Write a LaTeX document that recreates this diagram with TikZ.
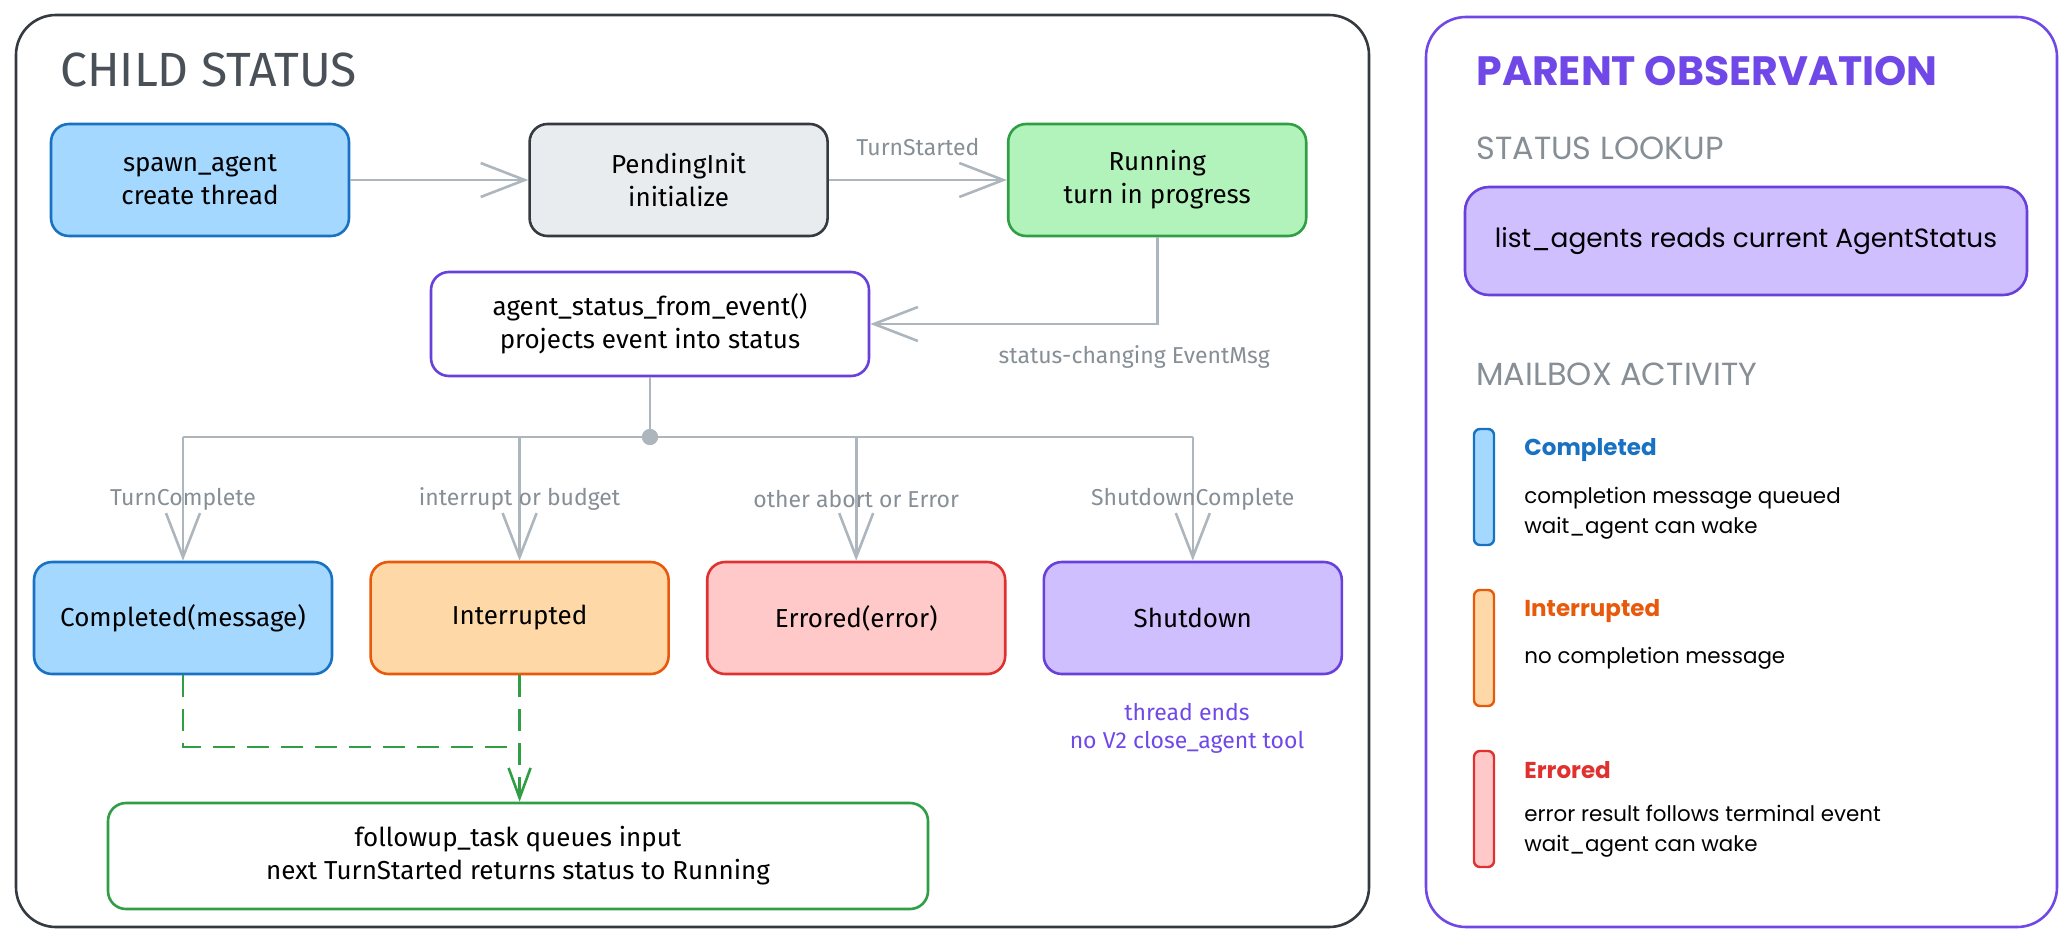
\documentclass[tikz,border=0pt]{standalone}
\usepackage{fontspec}
\setmainfont{Fira Sans}
\newfontfamily\obsfont{Poppins}
\usepackage{xcolor}
\usepackage{tikz}
\usetikzlibrary{arrows.meta,positioning}

\definecolor{lineGray}{HTML}{ADB5BD}
\definecolor{labelGray}{HTML}{868E96}
\definecolor{frameDark}{HTML}{343A40}
\definecolor{titleGray}{HTML}{495057}
\definecolor{blueFill}{HTML}{A5D8FF}
\definecolor{blueLine}{HTML}{1971C2}
\definecolor{grayFill}{HTML}{E9ECEF}
\definecolor{greenFill}{HTML}{B2F2BB}
\definecolor{greenLine}{HTML}{2F9E44}
\definecolor{violetFill}{HTML}{D0BFFF}
\definecolor{violetLine}{HTML}{6741D9}
\definecolor{violetText}{HTML}{7048E8}
\definecolor{orangeFill}{HTML}{FFD8A8}
\definecolor{orangeLine}{HTML}{E8590C}
\definecolor{redFill}{HTML}{FFC9C9}
\definecolor{redLine}{HTML}{E03131}

\begin{document}
\begin{tikzpicture}[
    x=0.5pt, y=-0.5pt,
    state/.style={draw, rounded corners=9pt, line width=1.3pt, align=center, minimum width=149pt, minimum height=56pt, font=\fontsize{13}{16.5}\selectfont},
    flow/.style={draw=lineGray, line width=1.3pt, -{Straight Barb[length=22pt,width=17pt]}},
    link/.style={draw=lineGray, line width=1.3pt},
    edgelbl/.style={text=labelGray, font=\fontsize{11.5}{14}\selectfont},
    dashflow/.style={draw=greenLine, line width=1.3pt, dash pattern=on 11pt off 6pt},
    heading/.style={anchor=west, inner sep=0pt},
    legendbar/.style={draw, rounded corners=3pt, line width=1.2pt, minimum width=10pt, minimum height=58pt, inner sep=0pt},
    legendtitle/.style={anchor=west, inner sep=0pt, font=\obsfont\bfseries\fontsize{11.5}{14}\selectfont},
    legendtext/.style={anchor=west, inner sep=0pt, align=left, font=\obsfont\fontsize{10.7}{15}\selectfont}
  ]
    \useasboundingbox (0,0) rectangle (2072,942);
    % frames
    \draw[frameDark, line width=1.3pt, rounded corners=20pt] (16,15) rectangle (1369,927);
    \draw[violetText, line width=1.3pt, rounded corners=20pt] (1426,17) rectangle (2057,927);

    % child status
    \node[heading, text=titleGray, font=\fontsize{24}{28}\selectfont] (childtitle) at (60,70) {CHILD STATUS};
    \node[state, fill=blueFill, draw=blueLine] (spawn) at (200,180) {spawn\_agent\\create thread};
    \node[state, fill=grayFill, draw=frameDark, right=89pt of spawn] (pending) {PendingInit\\initialize};
    \node[state, fill=greenFill, draw=greenLine, right=89pt of pending] (running) {Running\\turn in progress};
    \node[state, fill=white, draw=violetLine, minimum width=219pt, minimum height=52pt] (project) at (650,324) {agent\_status\_from\_event()\\projects event into status};

    \node[state, fill=blueFill, draw=blueLine] (completed) at (183,618) {Completed(message)};
    \node[state, fill=orangeFill, draw=orangeLine, right=18pt of completed] (interrupted) {Interrupted};
    \node[state, fill=redFill, draw=redLine, right=18pt of interrupted] (errored) {Errored(error)};
    \node[state, fill=violetFill, draw=violetLine, right=18pt of errored] (shutdown) {Shutdown};
    \node[text=violetText, align=center, font=\fontsize{11.5}{14}\selectfont] (shutnote) at (1187,728) {thread ends\\no V2 close\_agent tool};
    \node[state, fill=white, draw=greenLine, minimum width=410pt, minimum height=53pt] (followup) at (518,856) {followup\_task queues input\\next TurnStarted returns status to Running};

    \draw[flow] (spawn) -- (pending);
    \draw[flow] (pending) -- (running) node[midway, above=8pt, edgelbl] {TurnStarted};
    \draw[flow] (running.south) |- (project.east) node[pos=0.54, below=7pt, edgelbl] {status-changing EventMsg};

    \node[circle, fill=lineGray, inner sep=0pt, minimum size=8pt] (split) at (650,437) {};
    \draw[link] (project.south) -- (split);
    \draw[link] (completed.north |- split) -- (shutdown.north |- split);
    \draw[flow] (completed.north |- split) -- (completed.north) node[midway, edgelbl] {TurnComplete};
    \draw[flow] (interrupted.north |- split) -- (interrupted.north) node[midway, edgelbl] {interrupt or budget};
    \draw[flow] (errored.north |- split) -- (errored.north) node[midway, edgelbl] {other abort or Error};
    \draw[flow] (shutdown.north |- split) -- (shutdown.north) node[midway, edgelbl] {ShutdownComplete};
    \node[circle, fill=lineGray, inner sep=0pt, minimum size=8pt] at (split) {};

    \coordinate (merge) at (interrupted.south |- 0,747);
    \draw[dashflow] (completed.south) |- (merge);
    \draw[dashflow, -{Straight Barb[length=15pt,width=11pt]}] (interrupted.south) -- (interrupted.south |- followup.north);

    % parent observation
    \node[heading, text=violetText, font=\obsfont\bfseries\fontsize{20.5}{24}\selectfont] (parenttitle) at (1476,71) {PARENT OBSERVATION};
    \node[heading, text=labelGray, font=\obsfont\fontsize{16}{19}\selectfont] (lookuptitle) at (1476,148) {STATUS LOOKUP};
    \node[draw=violetLine, fill=violetFill, rounded corners=12pt, line width=1.3pt, minimum width=281pt, minimum height=54pt, font=\obsfont\fontsize{13.2}{16}\selectfont] (lookup) at (1746,241) {list\_agents reads current AgentStatus};
    \node[heading, text=labelGray, font=\obsfont\fontsize{16}{19}\selectfont] (mailtitle) at (1476,374) {MAILBOX ACTIVITY};

    \node[legendbar, fill=blueFill, draw=blueLine] (barcompleted) at (1484,487) {};
    \node[legendtitle, text=blueLine] (lblcompleted) at (1524,450) {Completed};
    \node[legendtext] (txtcompleted) at (1524,513) {completion message queued\\wait\_agent can wake};

    \node[legendbar, fill=orangeFill, draw=orangeLine] (barinterrupted) at (1484,648) {};
    \node[legendtitle, text=orangeLine] (lblinterrupted) at (1524,611) {Interrupted};
    \node[legendtext] (txtinterrupted) at (1524,658) {no completion message};

    \node[legendbar, fill=redFill, draw=redLine] (barerrored) at (1484,809) {};
    \node[legendtitle, text=redLine] (lblerrored) at (1524,770) {Errored};
    \node[legendtext] (txterrored) at (1524,831) {error result follows terminal event\\wait\_agent can wake};
  \end{tikzpicture}
\end{document}
